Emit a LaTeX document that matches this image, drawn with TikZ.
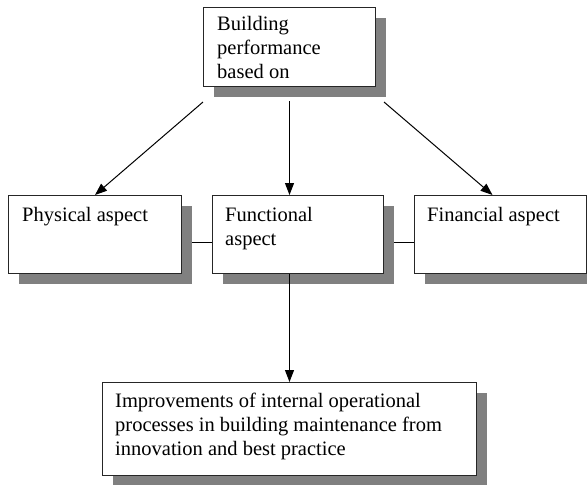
\documentclass[tikz,border=0pt]{standalone}
\usepackage{fontspec}
\setmainfont{Liberation Serif}
\usetikzlibrary{shadows,arrows.meta}
\definecolor{shadowgray}{RGB}{128,128,128}
\begin{document}
\begin{tikzpicture}[x=1pt,y=-1pt,
  box/.style={draw=black!85, line width=1pt, fill=white, inner sep=0pt, anchor=north west,
    drop shadow={shadow xshift=10pt, shadow yshift=-10pt, fill=shadowgray, opacity=1}},
  txt/.style={anchor=north west, inner sep=0pt, align=left, font=\fontsize{20.5}{23.8}\selectfont},
  arr/.style={-{Triangle[length=12pt,width=9pt]}, line width=1pt},
  conn/.style={line width=1pt}]
\useasboundingbox (0,0) rectangle (587,485);
\node[box, minimum width=172, minimum height=79] (top) at (203,7) {};
\node[box, minimum width=173, minimum height=78] (phys) at (8,195) {};
\node[box, minimum width=171, minimum height=78] (func) at (212,195) {};
\node[box, minimum width=172, minimum height=78] (fin) at (414,195) {};
\node[box, minimum width=374, minimum height=93] (bot) at (102,382) {};
\node[txt] (toptxt) at ([shift={(14,9)}]top.north west) {Building\\performance\\based on};
\node[txt] (phystxt) at ([shift={(14,12)}]phys.north west) {Physical aspect};
\node[txt] (functxt) at ([shift={(13,12)}]func.north west) {Functional\\aspect};
\node[txt] (fintxt) at ([shift={(13,12)}]fin.north west) {Financial aspect};
\node[txt] (bottxt) at ([shift={(13,11)}]bot.north west) {Improvements of internal operational\\processes in building maintenance from\\innovation and best practice};
\draw[conn] ([shift={(10,8)}]phys.east) -- ([shift={(0,8)}]func.west);
\draw[conn] ([shift={(10,8)}]func.east) -- ([shift={(0,8)}]fin.west);
\draw[arr] ([shift={(0,15)}]top.south west) -- (phys.north);
\draw[arr] ([shift={(0,14)}]top.south) -- (top.south |- func.north);
\draw[arr] ([shift={(8,15)}]top.south east) -- ([shift={(-8,0)}]fin.north);
\draw[arr] (func.south -| top.south) -- (top.south |- bot.north);
\end{tikzpicture}
\end{document}
